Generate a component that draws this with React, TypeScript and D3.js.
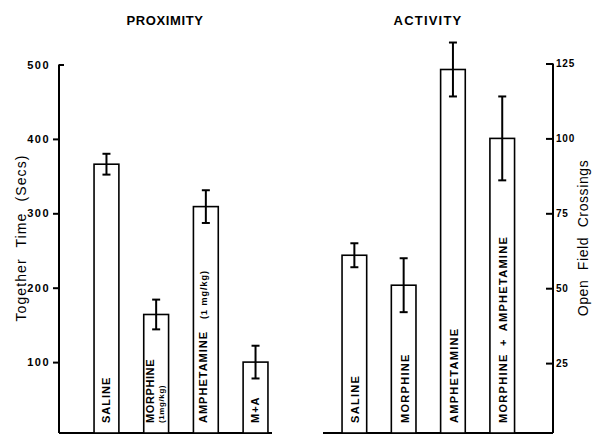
import React, { useEffect, useRef } from 'react';
import * as d3 from 'd3';

// proximity panel (left axis, seconds)
const proxCategories = ['SALINE', 'MORPHINE', 'AMPHETAMINE', 'M+A'];
const proxSubLabels = ['', '(1mg/kg)', '(1 mg/kg)', ''];
const proxMeans = [366, 164, 309, 100];
const proxErrors = [14, 20, 22, 22];
const proxTicks = [100, 200, 300, 400, 500];

// activity panel (right axis, crossings)
const actCategories = ['SALINE', 'MORPHINE', 'AMPHETAMINE', 'MORPHINE + AMPHETAMINE'];
const actMeans = [61, 51, 123, 100];
const actErrors = [4, 9, 9, 14];
const actTicks = [25, 50, 75, 100, 125];

const W = 598;
const H = 435;
const FONT = '"Liberation Sans", Arial, sans-serif';

export default function App() {
  const ref = useRef<SVGSVGElement>(null);

  useEffect(() => {
    const svg = d3.select(ref.current);
    svg.selectAll('*').remove();
    const base = 433;

    const yLeft = d3.scaleLinear().domain([0, 500]).range([436.5, 64.5]);
    const yRight = d3.scaleLinear().domain([0, 125]).range([438, 63.5]);

    const xLeft = d3.scaleBand<string>()
      .domain(proxCategories)
      .range([69.2, 292.8])
      .paddingInner(0.5)
      .paddingOuter(0.5);
    const xRight = d3.scaleBand<string>()
      .domain(actCategories)
      .range([317.4, 539.2])
      .paddingInner(0.5)
      .paddingOuter(0.5);

    // titles
    svg.append('text').attr('x', 165).attr('y', 25).attr('text-anchor', 'middle')
      .style('font', `bold 13px ${FONT}`).style('letter-spacing', '0.6px').text('PROXIMITY');
    svg.append('text').attr('x', 428).attr('y', 25).attr('text-anchor', 'middle')
      .style('font', `bold 13px ${FONT}`).style('letter-spacing', '1.2px').text('ACTIVITY');

    // left axis
    const leftAxis = svg.append('g')
      .attr('transform', 'translate(59,0)')
      .call(d3.axisLeft(yLeft).tickValues(proxTicks).tickSize(6).tickSizeOuter(0).tickPadding(3));
    leftAxis.select('.domain').attr('d', `M0,${yLeft(500)}V${base}`).attr('stroke-width', 2);
    leftAxis.selectAll('.tick line').attr('stroke-width', 2);
    leftAxis.selectAll('.tick').filter((d: any) => d === 500).select('line').attr('x2', 5);
    leftAxis.selectAll('.tick text')
      .style('font', `bold 11px ${FONT}`).style('letter-spacing', '1.5px').attr('fill', '#000');

    // right axis
    const rightAxis = svg.append('g')
      .attr('transform', 'translate(553,0)')
      .call(d3.axisRight(yRight).tickValues(actTicks).tickSizeInner(-7).tickSizeOuter(0).tickPadding(3));
    rightAxis.select('.domain').attr('d', `M0,${yRight(125)}V${base}`).attr('stroke-width', 2);
    rightAxis.selectAll('.tick line').attr('stroke-width', 2);
    rightAxis.selectAll('.tick text')
      .style('font', `bold 10px ${FONT}`).style('letter-spacing', '0.8px').attr('fill', '#000');

    // axis titles
    svg.append('text').attr('transform', 'translate(26,238) rotate(-90)').attr('text-anchor', 'middle')
      .style('font', `14px ${FONT}`).style('letter-spacing', '1.1px').style('word-spacing', '6px')
      .text('Together Time (Secs)');
    svg.append('text').attr('transform', 'translate(588,238) rotate(-90)').attr('text-anchor', 'middle')
      .style('font', `14px ${FONT}`).style('letter-spacing', '0.6px').style('word-spacing', '5px')
      .text('Open Field Crossings');

    // baselines
    svg.append('line').attr('x1', 59).attr('x2', 272).attr('y1', base).attr('y2', base)
      .attr('stroke', '#000').attr('stroke-width', 2);
    svg.append('line').attr('x1', 323).attr('x2', 553).attr('y1', base).attr('y2', base)
      .attr('stroke', '#000').attr('stroke-width', 2);

    const drawPanel = (cats: string[], means: number[], errs: number[], x: d3.ScaleBand<string>, y: d3.ScaleLinear<number, number>) => {
      const g = svg.append('g');
      const bw = x.bandwidth();
      g.selectAll('rect').data(cats).enter().append('rect')
        .attr('x', d => x(d)!)
        .attr('y', (d, i) => y(means[i]))
        .attr('width', bw)
        .attr('height', (d, i) => base - y(means[i]))
        .attr('fill', '#fff').attr('stroke', '#000').attr('stroke-width', 1.6);
      cats.forEach((c, i) => {
        const cx = x(c)! + bw / 2;
        const hi = y(means[i] + errs[i]);
        const lo = y(means[i] - errs[i]);
        g.append('line').attr('x1', cx).attr('x2', cx).attr('y1', hi).attr('y2', lo)
          .attr('stroke', '#000').attr('stroke-width', 2);
        [hi, lo].forEach(v => g.append('line').attr('x1', cx - 4).attr('x2', cx + 4).attr('y1', v).attr('y2', v)
          .attr('stroke', '#000').attr('stroke-width', 2));
      });
      return g;
    };

    const gl = drawPanel(proxCategories, proxMeans, proxErrors, xLeft, yLeft);
    const gr = drawPanel(actCategories, actMeans, actErrors, xRight, yRight);

    // bar labels, written upward inside the bars
    proxCategories.forEach((c, i) => {
      const cx = xLeft(c)! + xLeft.bandwidth() / 2;
      const sub = proxSubLabels[i];
      if (sub && c === 'MORPHINE') {
        gl.append('text').attr('transform', `translate(${cx - 6},423) rotate(-90)`).attr('dy', '0.35em')
          .style('font', `bold 11px ${FONT}`).style('letter-spacing', '0.6px').text(c);
        gl.append('text').attr('transform', `translate(${cx + 5},423) rotate(-90)`).attr('dy', '0.35em')
          .style('font', `bold 8px ${FONT}`).style('letter-spacing', '0.6px').text(sub);
      } else {
        const t = gl.append('text').attr('transform', `translate(${cx - (sub ? 3 : 0)},423) rotate(-90)`).attr('dy', '0.35em')
          .style('font', `bold 11px ${FONT}`).style('letter-spacing', '1px').text(c);
        if (sub) t.append('tspan').attr('dx', 12).style('font-size', '9px').text(sub);
      }
    });
    actCategories.forEach((c) => {
      const cx = xRight(c)! + xRight.bandwidth() / 2;
      gr.append('text').attr('transform', `translate(${cx + 1},423) rotate(-90)`).attr('dy', '0.35em')
        .style('font', `bold 11px ${FONT}`).style('letter-spacing', '1.3px').style('word-spacing', '3px').text(c);
    });
  }, []);

  return (
    <svg ref={ref} width={W} height={H}
      style={{ position: 'absolute', left: 0, top: 0, background: '#fff' }} />
  );
}
